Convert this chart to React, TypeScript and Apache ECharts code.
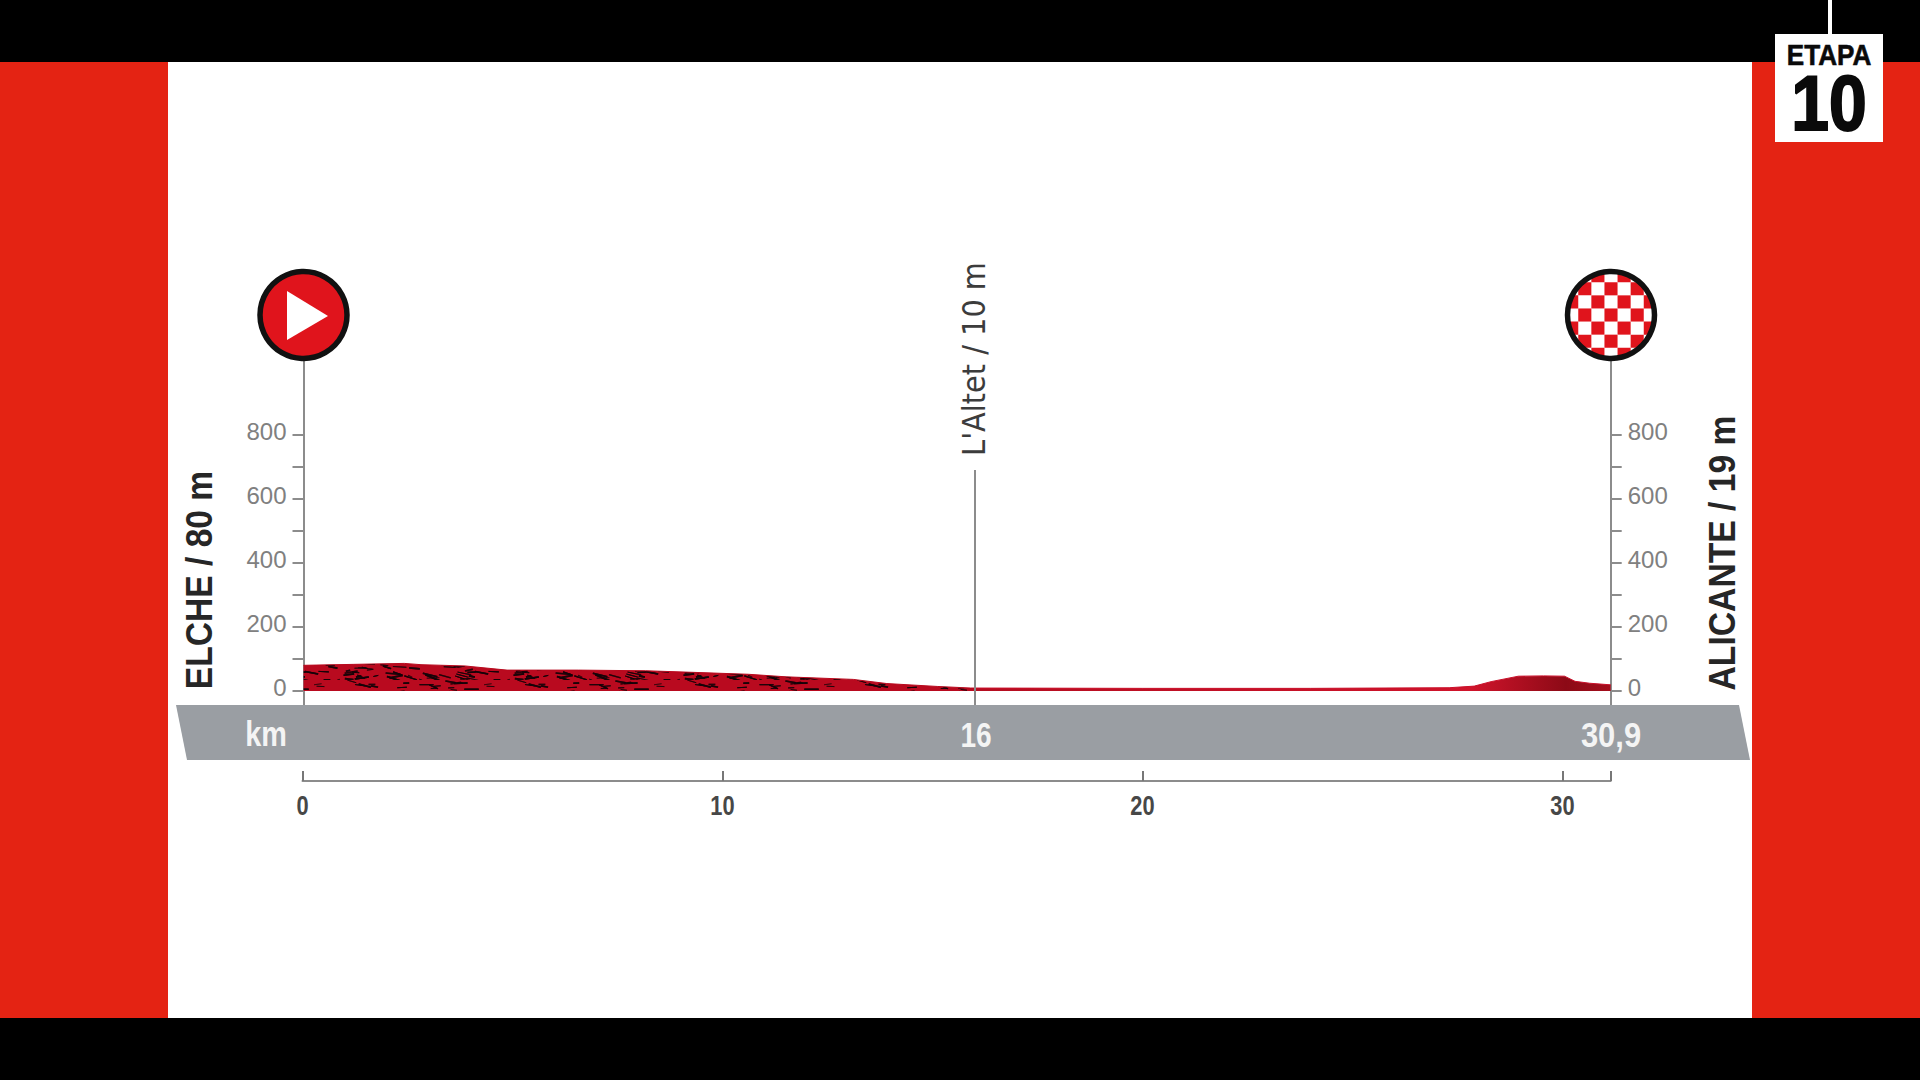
import React, { useEffect, useRef } from "react";
import * as echarts from "echarts";

const axisKmMax = 31.15;
const westKm = [0, 1.2, 2.4, 2.8, 3.85, 4.85, 6.55, 8.15, 9.3, 10.6, 11.5, 13.1, 13.9, 15.1, 15.9, 16];
const westM = [80, 83, 86, 82, 78, 65, 65, 63, 58, 52, 44, 36, 23, 14, 9, 9];
const eastKm = [16, 20, 24, 27.3, 27.9, 28.3, 28.95, 29.55, 30.05, 30.3, 30.65, 31.15];
const eastM = [9, 8, 8, 10, 15, 29, 46, 47, 46, 30, 24, 19];
const altitudeTicks = [0, 100, 200, 300, 400, 500, 600, 700, 800];
const altitudeLabels = [0, 200, 400, 600, 800];
const kmLabels = [0, 10, 20, 30];
const passKm = 16;
const passTop = 690;
const axisMin = -44;
const axisMax = 1031;
const startLabel = "ELCHE / 80 m";
const finishLabel = "ALICANTE / 19 m";
const passLabel = "L'Altet / 10 m";
const stageTitle = "ETAPA";
const stageNumber = "10";
const bandLabels = ["km", "16", "30,9"];

const sans = "'Liberation Sans', sans-serif";

function makeTexture() {
  const w = 170, h = 40;
  const c = document.createElement("canvas");
  c.width = w;
  c.height = h;
  const g = c.getContext("2d")!;
  g.fillStyle = "#b90a1f";
  g.fillRect(0, 0, w, h);
  let s = 17;
  const next = () => {
    s = (s * 137 + 29) % 1009;
    return s / 1009;
  };
  for (let i = 0; i < 240; i++) {
    const x = next() * w, y = next() * h;
    const len = 4 + next() * 11, slope = (next() - 0.35) * 0.7;
    g.strokeStyle = `rgba(20,4,8,${0.5 + next() * 0.45})`;
    g.lineWidth = 0.7 + next() * 1.1;
    g.beginPath();
    g.moveTo(x, y);
    g.lineTo(x + len, y + len * slope);
    g.stroke();
  }
  return c;
}

function checkerElements(cx: number, cy: number, r: number) {
  const cell = 13.1;
  const out: any[] = [];
  for (let i = -4; i <= 4; i++) {
    for (let j = -4; j <= 4; j++) {
      if ((i + j) % 2 !== 0) continue;
      const x0 = (i - 0.5) * cell, y0 = (j - 0.5) * cell;
      const corners = [[x0, y0], [x0 + cell, y0], [x0 + cell, y0 + cell], [x0, y0 + cell]];
      const pts: number[][] = [];
      let inside = false;
      corners.forEach((p, k) => {
        const q = corners[(k + 1) % 4];
        for (let t = 0; t < 6; t++) {
          const x = p[0] + ((q[0] - p[0]) * t) / 6, y = p[1] + ((q[1] - p[1]) * t) / 6;
          const d = Math.hypot(x, y);
          if (d < r) inside = true;
          const s = d > r ? r / d : 1;
          pts.push([cx + x * s, cy + y * s]);
        }
      });
      if (inside) out.push({ type: "polygon", z: 10, shape: { points: pts }, style: { fill: "#e0141c" } });
    }
  }
  return out;
}

export default function App() {
  const ref = useRef<HTMLDivElement>(null);
  useEffect(() => {
    const chart = echarts.init(ref.current!, undefined, { renderer: "svg" });
    const rotated = (text: string, x: number, y: number, size: number, sx: number, extra: any = {}) => ({
      type: "text", x, y, rotation: Math.PI / 2, scaleX: sx, z: 10,
      style: {
        text, fontFamily: sans, fontWeight: "bold", fontSize: size, fill: "#262626",
        align: "center", verticalAlign: "middle", ...extra,
      },
    });
    const flat = (text: string, x: number, y: number, size: number, sx: number, fill: string, extra: any = {}) => ({
      type: "text", x, y, scaleX: sx, z: 10,
      style: { text, fontFamily: sans, fontWeight: "bold", fontSize: size, fill, align: "center", verticalAlign: "middle", ...extra },
    });
    const yAxis = (position: string) => ({
      type: "value", gridIndex: 0, position, min: axisMin, max: axisMax,
      splitLine: { show: false },
      axisLine: { show: true, onZero: false, lineStyle: { color: "#8c8c8c", width: 2 } },
      axisTick: { show: true, customValues: altitudeTicks, length: 11, lineStyle: { color: "#8c8c8c", width: 2 } },
      axisLabel: {
        show: true, customValues: altitudeLabels, color: "#808080", fontFamily: sans,
        fontSize: 24, margin: 17, formatter: "{a|{value}}",
        rich: { a: { color: "#808080", fontFamily: sans, fontSize: 24, padding: [0, 0, 6, 0] } },
      },
    });
    chart.setOption({
      animation: false,
      backgroundColor: "#000",
      grid: [
        { left: 303.5, right: 1920 - 1610.7, top: 361, height: 344 },
        { left: 302.5, right: 1920 - 1610.7, top: 761, height: 20 },
      ],
      xAxis: [
        { type: "value", gridIndex: 0, min: 0, max: axisKmMax, show: false, splitLine: { show: false } },
        {
          type: "value", gridIndex: 1, min: 0, max: axisKmMax, interval: 10, position: "bottom",
          splitLine: { show: false },
          axisLine: { show: true, onZero: false, lineStyle: { color: "#8c8c8c", width: 2 } },
          axisTick: { show: true, inside: true, length: 10, lineStyle: { color: "#777", width: 2 } },
          axisLabel: { show: false },
        },
      ],
      yAxis: [
        yAxis("left"),
        yAxis("right"),
        { type: "value", gridIndex: 1, show: false, min: 0, max: 1 },
      ],
      series: [
        {
          type: "line", xAxisIndex: 0, yAxisIndex: 0, symbol: "none", z: 3,
          data: westKm.map((k, i) => [k, westM[i]]),
          lineStyle: { color: "#b80a1e", width: 1 },
          areaStyle: { origin: 0, opacity: 1, color: { image: makeTexture(), repeat: "repeat" } },
          markLine: {
            silent: true, symbol: "none", label: { show: false },
            lineStyle: { color: "#8c8c8c", width: 2, type: "solid" },
            data: [[{ coord: [passKm, axisMin] }, { coord: [passKm, passTop] }]],
          },
        },
        {
          type: "line", xAxisIndex: 0, yAxisIndex: 0, symbol: "none", z: 3,
          data: eastKm.map((k, i) => [k, eastM[i]]),
          lineStyle: { color: "#c9102a", width: 1 },
          areaStyle: {
            origin: 0, opacity: 1,
            color: {
              type: "linear", x: 0, y: 0, x2: 1, y2: 0,
              colorStops: [
                { offset: 0, color: "#b50d20" },
                { offset: 0.78, color: "#d0142b" },
                { offset: 0.93, color: "#8c0a16" },
                { offset: 1, color: "#a50d1c" },
              ],
            },
          },
        },
        {
          type: "custom", xAxisIndex: 1, yAxisIndex: 2, coordinateSystem: "cartesian2d",
          data: kmLabels.map((k) => [k, 0]),
          renderItem: (_p: any, api: any) => {
            const pt = api.coord([api.value(0), 0]);
            return {
              type: "text", x: pt[0], y: pt[1] + 24, scaleX: 0.78,
              style: {
                text: String(api.value(0)), fontFamily: sans, fontWeight: "bold", fontSize: 28,
                fill: "#474747", align: "center", verticalAlign: "middle",
              },
            };
          },
        },
      ],
      graphic: { elements: [
        { type: "rect", z: -2, shape: { x: 0, y: 62, width: 1920, height: 956 }, style: { fill: "#e42313" } },
        { type: "rect", z: -1, shape: { x: 168, y: 62, width: 1584, height: 956 }, style: { fill: "#ffffff" } },
        { type: "polygon", z: 1, shape: { points: [[176, 705], [1739, 705], [1750, 760], [187, 760]] }, style: { fill: "#9a9ea3" } },
        flat(bandLabels[0], 266, 733, 36, 0.8, "#f4f4f4"),
        flat(bandLabels[1], 976, 735, 36, 0.78, "#f4f4f4"),
        flat(bandLabels[2], 1611, 735, 36, 0.86, "#f4f4f4"),
        rotated(startLabel, 199, 580, 37, 0.908),
        rotated(finishLabel, 1722, 553, 37, 0.91),
        rotated(passLabel, 974, 359, 32, 0.9, { fontFamily: "'DejaVu Sans', sans-serif", fontWeight: "normal", fill: "#3c3c3c" }),
        { type: "circle", z: 9, shape: { cx: 303.5, cy: 315, r: 43.5 }, style: { fill: "#e0141c", stroke: "#111", lineWidth: 5.5 } },
        { type: "polygon", z: 10, shape: { points: [[287, 291], [328, 316], [287, 340]] }, style: { fill: "#fff" } },
        { type: "circle", z: 9, shape: { cx: 1611, cy: 315, r: 43.5 }, style: { fill: "#fff" } },
        ...checkerElements(1611, 315, 43.5),
        { type: "circle", z: 11, shape: { cx: 1611, cy: 315, r: 43.5 }, style: { fill: "none", stroke: "#111", lineWidth: 5.5 } },
        { type: "rect", z: 12, shape: { x: 1828, y: 0, width: 4, height: 34 }, style: { fill: "#fff" } },
        { type: "rect", z: 12, shape: { x: 1775, y: 34, width: 108, height: 108 }, style: { fill: "#fff" } },
        { ...flat(stageTitle, 1829, 55, 29, 0.9, "#0a0a0a", { stroke: "#0a0a0a", lineWidth: 0.6 }), z: 13 },
        { ...flat(stageNumber, 1829, 103, 78, 0.87, "#0a0a0a", { stroke: "#0a0a0a", lineWidth: 2 }), z: 13 },
      ] },
    });
    return () => chart.dispose();
  }, []);
  return <div ref={ref} style={{ position: "fixed", left: 0, top: 0, width: 1920, height: 1080 }} />;
}
